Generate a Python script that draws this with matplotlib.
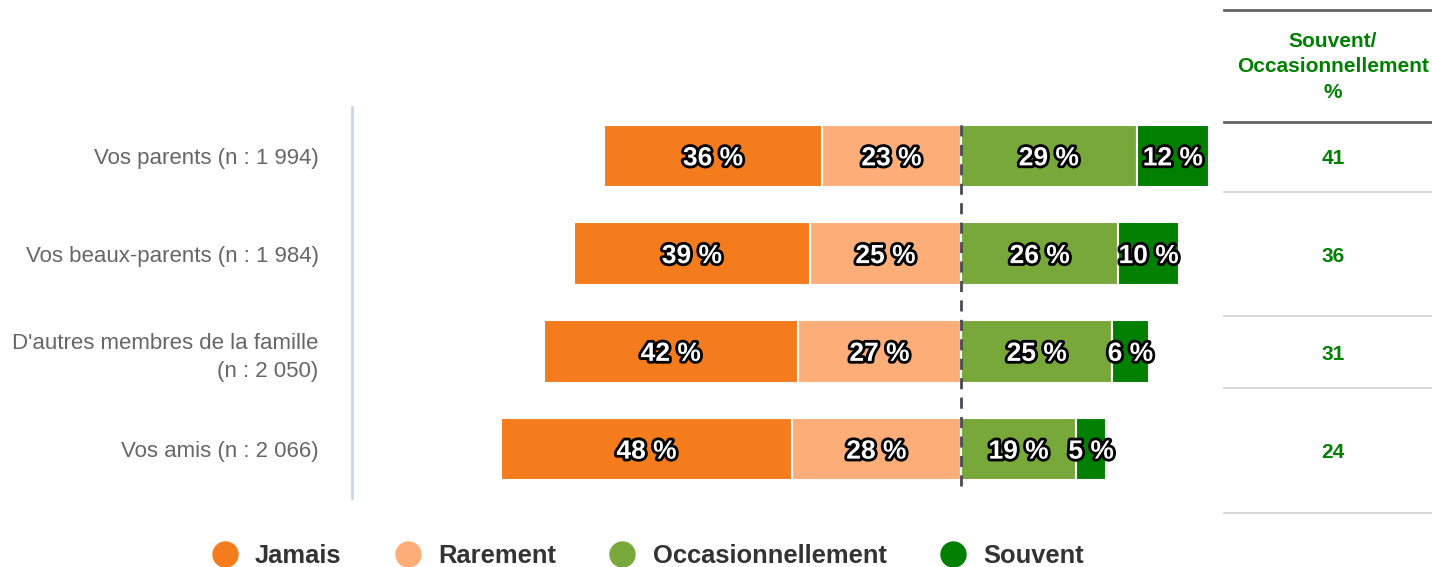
import matplotlib.pyplot as plt
import matplotlib.patheffects as pe
from matplotlib.lines import Line2D

plt.rcParams['font.family'] = ['Liberation Sans', 'DejaVu Sans']

categories = ['Vos parents (n : 1 994)',
              'Vos beaux-parents (n : 1 984)',
              "D'autres membres de la famille\n(n : 2 050)",
              'Vos amis (n : 2 066)']
series = ['Jamais', 'Rarement', 'Occasionnellement', 'Souvent']
jamais = [36, 39, 42, 48]
rarement = [23, 25, 27, 28]
occasionnellement = [29, 26, 25, 19]
souvent = [12, 10, 6, 5]
total_souvent_occ = [41, 36, 31, 24]
colors = ['#F47C1C', '#FDAE78', '#78A839', '#007F00']

W, H = 1432, 567
fig = plt.figure(figsize=(W / 100, H / 100), dpi=100)
ax = fig.add_axes([352 / W, 1 - 498 / H, (1220 - 352) / W, 391 / H])

y = list(range(len(categories)))
bh = 0.64
stroke = [pe.withStroke(linewidth=4, foreground='black')]

def label_bars(bars, vals):
    for b, v in zip(bars, vals):
        cx = b.get_x() + b.get_width() / 2
        ax.text(cx, b.get_y() + b.get_height() / 2, f'{v} %', ha='center', va='center_baseline',
                color='white', fontsize=19, fontweight='bold', path_effects=stroke)

# negative side: Rarement next to zero, Jamais further left
b_rar = ax.barh(y, [-v for v in rarement], height=bh, color=colors[1], edgecolor='white', linewidth=1.5)
b_jam = ax.barh(y, [-v for v in jamais], left=[-v for v in rarement], height=bh,
                color=colors[0], edgecolor='white', linewidth=1.5)
b_occ = ax.barh(y, occasionnellement, height=bh, color=colors[2], edgecolor='white', linewidth=1.5)
b_sou = ax.barh(y, souvent, left=occasionnellement, height=bh, color=colors[3],
                edgecolor='white', linewidth=1.5)

ax.axvline(0, ymin=(498 - 486) / 391, ymax=(498 - 122) / 391, color='#4a4a55',
           linestyle=(0, (4, 3)), linewidth=2, zorder=5)

label_bars(b_jam, jamais)
label_bars(b_rar, rarement)
label_bars(b_occ, occasionnellement)
label_bars(b_sou, souvent)

ax.set_xlim(-100.7, 42.8)
ax.set_ylim(3.5, -0.5)
ax.set_yticks(y)
ax.set_yticklabels(categories, fontsize=16, color='#666666', ha='right', linespacing=1.45)
ax.tick_params(axis='y', length=0, pad=24)
ax.set_xticks([])
for s in ['top', 'right', 'bottom']:
    ax.spines[s].set_visible(False)
ax.spines['left'].set_color('#ccd6eb')
ax.spines['left'].set_linewidth(2)

# right-hand table
tx0, tx1 = 1224 / W, 1.0
fig.add_artist(Line2D([tx0, tx1], [1 - 10 / H] * 2, color='#666666', linewidth=2))
fig.add_artist(Line2D([tx0, tx1], [1 - 122 / H] * 2, color='#666666', linewidth=2))
for py in [192, 316, 388, 513]:
    fig.add_artist(Line2D([tx0, tx1], [1 - py / H] * 2, color='#d0d0d0', linewidth=1.2))
fig.text(1333 / W, 1 - 67 / H, 'Souvent/\nOccasionnellement\n%', ha='center', va='center',
         color='#008000', fontsize=15, fontweight='bold', linespacing=1.45)
for val, py in zip(total_souvent_occ, [158, 256, 354, 452]):
    fig.text(1333 / W, 1 - py / H, str(val), ha='center', va='center',
             color='#008000', fontsize=15, fontweight='bold')

# legend
handles = [Line2D([], [], marker='o', linestyle='none', markersize=18,
                  markerfacecolor=c, markeredgecolor=c) for c in colors]
fig.legend(handles, series, loc='center', bbox_to_anchor=(648 / W, 1 - 556 / H), ncol=4,
           frameon=False, handlelength=1.0, handletextpad=0.68, columnspacing=2.1,
           prop={'size': 18.4, 'weight': 'bold'}, labelcolor='#333333')

fig.savefig('out.png', dpi=100)
